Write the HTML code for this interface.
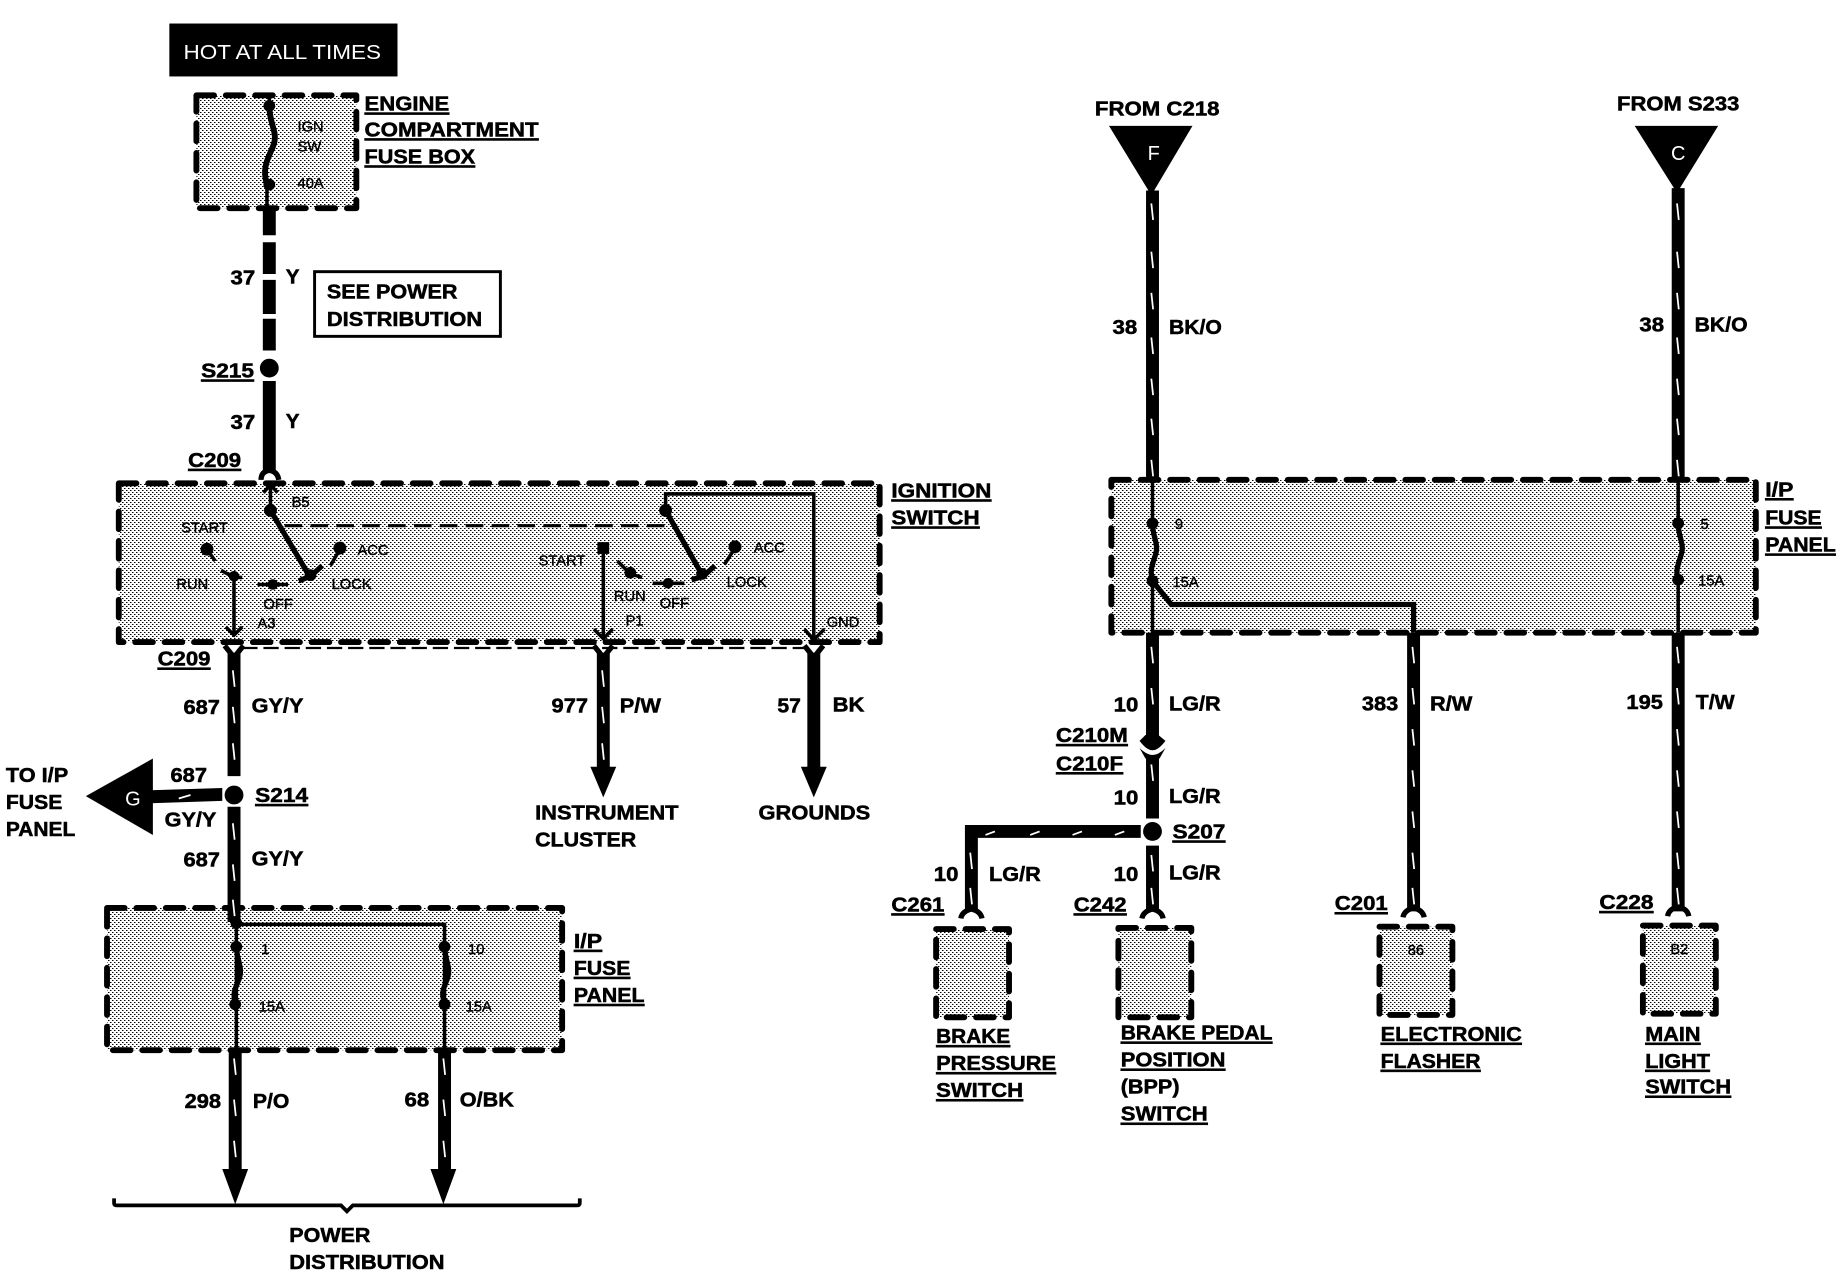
<!DOCTYPE html>
<html><head><meta charset="utf-8"><title>Wiring diagram</title>
<style>
html,body{margin:0;padding:0;background:#fff;width:1844px;height:1280px;overflow:hidden}
svg{display:block}
text{font-family:"Liberation Sans",sans-serif;fill:#000}
.b{font-weight:700;font-size:17.5px;stroke:#000;stroke-width:.45px}
.u{text-decoration:underline}
.s{font-size:12.5px;stroke:#000;stroke-width:.35px}
.w{fill:#fff;font-size:17px}
.box{fill:url(#st);stroke:#000;stroke-width:5;stroke-dasharray:15 10;stroke-linecap:round;stroke-linejoin:round}
.wire{stroke:#000;stroke-width:11;fill:none}
.thin{stroke:#000;stroke-width:3;fill:none}
.mid{stroke:#000;stroke-width:4.5;fill:none}
.tick{stroke:#fff;stroke-width:1.5;fill:none}
</style></head><body>
<svg xmlns="http://www.w3.org/2000/svg" width="1844" height="1280" viewBox="0 0 1568 1088.4">
<defs>
<pattern id="st" patternUnits="userSpaceOnUse" width="4" height="4" patternTransform="scale(.8503)">
<rect width="4" height="4" fill="#fff"/>
<rect x="0" y="0" width="1.5" height="1" fill="#000"/>
<rect x="2" y="2" width="1.5" height="1" fill="#000"/>
</pattern>
</defs>

<!-- hot box -->
<rect x="144" y="20" width="194" height="45" fill="#000"/>
<text x="156" y="50" class="w" textLength="168" lengthAdjust="spacingAndGlyphs">HOT AT ALL TIMES</text>

<!-- shaded boxes -->
<rect class="box" x="167" y="81" width="136" height="96"/>
<rect class="box" x="101" y="411" width="647" height="135"/>
<rect class="box" x="91" y="772" width="387" height="121"/>
<rect class="box" x="945" y="408" width="548" height="130"/>
<rect class="box" x="796" y="790" width="62" height="75"/>
<rect class="box" x="951" y="789" width="62" height="76"/>
<rect class="box" x="1173" y="788" width="62" height="75"/>
<rect class="box" x="1397" y="787" width="62" height="75"/>

<!-- engine fuse -->
<path class="thin" d="M229 80V90C229 105 236 112 233 122C230 132 222 140 227 157V178"/>
<path d="M229 90C229 105 236 112 233 122C230 132 222 140 227 157" fill="none" stroke="#000" stroke-width="5"/>
<circle cx="229" cy="90" r="5"/><circle cx="229" cy="157" r="5"/>
<text x="253" y="112" class="s">IGN</text><text x="253" y="129" class="s">SW</text><text x="253" y="160" class="s">40A</text>
<text x="310" y="94" class="b u" textLength="72" lengthAdjust="spacingAndGlyphs">ENGINE</text>
<text x="310" y="116" class="b u" textLength="148" lengthAdjust="spacingAndGlyphs">COMPARTMENT</text>
<text x="310" y="139" class="b u" textLength="94" lengthAdjust="spacingAndGlyphs">FUSE BOX</text>

<!-- wire 37 -->
<path class="wire" d="M229 177V200M229 206V233M229 238V267M229 271V298M229 324V402"/>
<circle cx="229" cy="313" r="8"/>
<path d="M222 408Q222 401 229 400Q236 401 237 408" class="mid"/>
<text x="196" y="242" class="b" textLength="21" lengthAdjust="spacingAndGlyphs">37</text>
<text x="243" y="241" class="b">Y</text>
<rect x="267.500" y="231" width="158" height="55" fill="#fff" stroke="#000" stroke-width="2.500"/>
<text x="278" y="254" class="b" textLength="111" lengthAdjust="spacingAndGlyphs">SEE POWER</text>
<text x="278" y="277" class="b" textLength="132" lengthAdjust="spacingAndGlyphs">DISTRIBUTION</text>
<text x="171" y="321" class="b u" textLength="45" lengthAdjust="spacingAndGlyphs">S215</text>
<text x="196" y="365" class="b" textLength="21" lengthAdjust="spacingAndGlyphs">37</text>
<text x="243" y="364" class="b">Y</text>
<text x="160" y="397" class="b u" textLength="45" lengthAdjust="spacingAndGlyphs">C209</text>

<!-- ignition switch -->
<text x="758" y="423" class="b u" textLength="85" lengthAdjust="spacingAndGlyphs">IGNITION</text>
<text x="758" y="446" class="b u" textLength="75" lengthAdjust="spacingAndGlyphs">SWITCH</text>
<path class="thin" d="M230 412V434M224 419L230 412L236 419"/>
<circle cx="230" cy="434" r="5.500"/>
<path class="mid" d="M230 434L262 488"/>
<path class="mid" d="M254 494L264 490L274 481"/><circle cx="264" cy="489" r="5"/>
<path d="M242 447H572" stroke="#000" stroke-width="2.600" stroke-dasharray="15 7" fill="none"/>
<text x="248" y="431" class="s">B5</text>
<text x="154" y="453" class="s">START</text>
<circle cx="176" cy="467" r="5.500"/><path class="thin" d="M176 467L183 477"/>
<text x="150" y="501" class="s">RUN</text>
<path class="thin" d="M188 485L199 491H206"/><circle cx="199" cy="490" r="4.500"/>
<path class="thin" d="M199 490V540M192 533L199 540L206 533"/>
<path class="thin" d="M219 497H245"/><circle cx="232" cy="497" r="4.500"/>
<text x="224" y="518" class="s">OFF</text><text x="219" y="534" class="s">A3</text>
<circle cx="289" cy="466" r="5.500"/><path class="thin" d="M289 467L281 481"/>
<text x="304" y="472" class="s">ACC</text><text x="282" y="501" class="s">LOCK</text>

<circle cx="566" cy="434" r="5.500"/>
<path class="thin" d="M566 434V420H692V544M684 535L692 544L701 535"/>
<path class="mid" d="M566 434L596 487"/>
<path class="mid" d="M588 493L598 490L608 481"/><circle cx="597" cy="488" r="5"/>
<circle cx="625" cy="465" r="5.500"/><path class="thin" d="M625 466L616 480"/>
<text x="641" y="470" class="s">ACC</text><text x="618" y="499" class="s">LOCK</text>
<text x="458" y="481" class="s">START</text>
<rect x="508" y="461" width="10" height="10"/>
<path class="thin" d="M513 466V543M505 535L513 543L521 535"/>
<path class="thin" d="M525 477L536 488L546 491"/><circle cx="536" cy="487" r="5"/>
<text x="522" y="511" class="s">RUN</text>
<path class="thin" d="M555 496H582"/><circle cx="568" cy="496" r="4.500"/>
<text x="561" y="517" class="s">OFF</text><text x="532" y="532" class="s">P1</text>
<text x="703" y="533" class="s">GND</text>

<!-- below ignition -->
<path d="M206 551H688" stroke="#000" stroke-width="2" stroke-dasharray="13 5" fill="none"/>
<path class="mid" d="M191 549L199 559L207 549M505 549L513 559L521 549M684 549L692 559L700 549"/>
<path class="wire" d="M199 555V660M199 686V784M513 555V654M692 555V654"/>
<path d="M502 652H524L513 678ZM681 652H703L692 678Z"/>
<path class="tick" d="M198 570l1.500 14M198 601l1.500 14M198 632l1.500 14M198 700l1.500 14M198 735l1.500 14M198 765l1.500 14M512 570l1.500 14M512 601l1.500 14M512 632l1.500 14"/>
<text x="134" y="566" class="b u" textLength="45" lengthAdjust="spacingAndGlyphs">C209</text>
<text x="156" y="607" class="b" textLength="31" lengthAdjust="spacingAndGlyphs">687</text>
<text x="214" y="606" class="b" textLength="44" lengthAdjust="spacingAndGlyphs">GY/Y</text>
<text x="469" y="606" class="b" textLength="31" lengthAdjust="spacingAndGlyphs">977</text>
<text x="527" y="606" class="b" textLength="35" lengthAdjust="spacingAndGlyphs">P/W</text>
<text x="661" y="606" class="b" textLength="20" lengthAdjust="spacingAndGlyphs">57</text>
<text x="708" y="605" class="b" textLength="27" lengthAdjust="spacingAndGlyphs">BK</text>
<text x="455" y="697" class="b" textLength="122" lengthAdjust="spacingAndGlyphs">INSTRUMENT</text>
<text x="455" y="720" class="b" textLength="86" lengthAdjust="spacingAndGlyphs">CLUSTER</text>
<text x="645" y="697" class="b" textLength="95" lengthAdjust="spacingAndGlyphs">GROUNDS</text>

<!-- S214 -->
<circle cx="199" cy="676" r="8"/>
<path d="M73 677L130 645V710Z"/>
<path d="M128 672L189 670V681L128 683Z"/>
<path class="tick" d="M152 679l10 -3"/>
<text x="113" y="685" class="w" text-anchor="middle">G</text>
<text x="145" y="665" class="b" textLength="31" lengthAdjust="spacingAndGlyphs">687</text>
<text x="140" y="703" class="b" textLength="44" lengthAdjust="spacingAndGlyphs">GY/Y</text>
<text x="217" y="682" class="b u" textLength="45" lengthAdjust="spacingAndGlyphs">S214</text>
<text x="5" y="665" class="b" textLength="53" lengthAdjust="spacingAndGlyphs">TO I/P</text>
<text x="5" y="688" class="b" textLength="48" lengthAdjust="spacingAndGlyphs">FUSE</text>
<text x="5" y="711" class="b" textLength="59" lengthAdjust="spacingAndGlyphs">PANEL</text>
<text x="156" y="737" class="b" textLength="31" lengthAdjust="spacingAndGlyphs">687</text>
<text x="214" y="736" class="b" textLength="44" lengthAdjust="spacingAndGlyphs">GY/Y</text>

<!-- left IP panel -->
<path class="thin" d="M201 784V893M201 786H378V893"/>
<path class="mid" d="M201 804C201 815 206 822 204 830C202 838 197 842 200 853M378 804C378 815 383 822 381 830C379 838 374 842 378 853"/>
<circle cx="201" cy="785" r="5"/><circle cx="201" cy="805" r="5"/><circle cx="378" cy="805" r="5"/>
<circle cx="200" cy="854" r="5"/><circle cx="378" cy="854" r="5"/>
<text x="222" y="811" class="s">1</text><text x="398" y="811" class="s">10</text>
<text x="220" y="860" class="s">15A</text><text x="396" y="860" class="s">15A</text>
<text x="488" y="806" class="b u" textLength="24" lengthAdjust="spacingAndGlyphs">I/P</text>
<text x="488" y="829" class="b u" textLength="48" lengthAdjust="spacingAndGlyphs">FUSE</text>
<text x="488" y="852" class="b u" textLength="60" lengthAdjust="spacingAndGlyphs">PANEL</text>
<path class="wire" d="M200 893V997M378 893V997"/>
<path d="M189 994H211L200 1024ZM366 994H388L377 1024Z"/>
<path class="tick" d="M199 900l1.500 14M199 935l1.500 14M199 970l1.500 14M377 900l1.500 14M377 935l1.500 14M377 970l1.500 14"/>
<text x="157" y="942" class="b" textLength="31" lengthAdjust="spacingAndGlyphs">298</text>
<text x="215" y="942" class="b" textLength="31" lengthAdjust="spacingAndGlyphs">P/O</text>
<text x="344" y="941" class="b" textLength="21" lengthAdjust="spacingAndGlyphs">68</text>
<text x="391" y="941" class="b" textLength="46" lengthAdjust="spacingAndGlyphs">O/BK</text>
<path d="M97 1019V1023Q97 1025 100 1025H290L295 1030L300 1025H490Q493 1025 493 1023V1019" fill="none" stroke="#000" stroke-width="3.200"/>
<text x="246" y="1056" class="b" textLength="69" lengthAdjust="spacingAndGlyphs">POWER</text>
<text x="246" y="1079" class="b" textLength="132" lengthAdjust="spacingAndGlyphs">DISTRIBUTION</text>

<!-- right top -->
<text x="931" y="98" class="b" textLength="106" lengthAdjust="spacingAndGlyphs">FROM C218</text>
<text x="1375" y="94" class="b" textLength="104" lengthAdjust="spacingAndGlyphs">FROM S233</text>
<path d="M943 107H1014L979 166ZM1390 107H1461L1426 164Z"/>
<text x="981" y="136" class="w" text-anchor="middle">F</text>
<text x="1427" y="136" class="w" text-anchor="middle">C</text>
<path class="wire" d="M980 162V410M1427 160V410"/>
<path class="tick" d="M979 173l1.500 14M979 214l1.500 14M979 249l1.500 14M979 287l1.500 14M979 322l1.500 14M979 356l1.500 14M979 391l1.500 14M1426 173l1.500 14M1426 214l1.500 14M1426 249l1.500 14M1426 287l1.500 14M1426 322l1.500 14M1426 356l1.500 14M1426 391l1.500 14"/>
<text x="946" y="284" class="b" textLength="21" lengthAdjust="spacingAndGlyphs">38</text>
<text x="994" y="284" class="b" textLength="45" lengthAdjust="spacingAndGlyphs">BK/O</text>
<text x="1394" y="282" class="b" textLength="21" lengthAdjust="spacingAndGlyphs">38</text>
<text x="1441" y="282" class="b" textLength="45" lengthAdjust="spacingAndGlyphs">BK/O</text>

<!-- right IP panel -->
<path class="thin" d="M980 408V445M980 494V538M1427 408V445M1427 494V538"/>
<path class="mid" d="M980 445C980 456 985 462 983 470C981 478 977 484 980 494M1427 445C1427 456 1432 462 1430 470C1428 478 1424 484 1427 494"/>
<path class="mid" d="M980 494L996 514H1202V538"/>
<circle cx="980" cy="445" r="5"/><circle cx="980" cy="494" r="5"/><circle cx="1427" cy="445" r="5"/><circle cx="1427" cy="493" r="5"/>
<text x="999" y="450" class="s">9</text><text x="1446" y="450" class="s">5</text>
<text x="997" y="499" class="s">15A</text><text x="1444" y="498" class="s">15A</text>
<text x="1501" y="422" class="b u" textLength="24" lengthAdjust="spacingAndGlyphs">I/P</text>
<text x="1501" y="446" class="b u" textLength="48" lengthAdjust="spacingAndGlyphs">FUSE</text>
<text x="1501" y="469" class="b u" textLength="60" lengthAdjust="spacingAndGlyphs">PANEL</text>

<!-- right wires -->
<path class="wire" d="M980 538V626M980 644V696M980 719V775M1202 538V775M1427 538V775M826 775V707H970"/>
<path d="M974 625H985L991 630Q985 638 980 638Q975 638 969 630ZM969 636Q975 642 980 642Q985 642 991 636L986 645H974Z"/>
<circle cx="980" cy="707" r="8"/>
<path class="mid" d="M817 781Q818 775 826 773Q834 775 835 781M971 781Q972 775 980 773Q988 775 989 781M1193 780Q1194 774 1202 772Q1210 774 1211 780M1418 779Q1419 773 1427 771Q1435 773 1436 779"/>
<path class="tick" d="M979 550l1.500 14M979 585l1.500 14M979 650l1.500 14M979 727l1.500 14M979 755l1.500 14M1201 550l1.500 14M1201 585l1.500 14M1201 620l1.500 14M1201 655l1.500 14M1201 690l1.500 14M1201 725l1.500 14M1201 755l1.500 14M1426 550l1.500 14M1426 585l1.500 14M1426 620l1.500 14M1426 655l1.500 14M1426 690l1.500 14M1426 725l1.500 14M1426 755l1.500 14M825 725l1.500 14M825 755l1.500 14M838 710l8 -3M876 710l8 -3M912 710l8 -3M948 710l8 -3"/>
<text x="947" y="605" class="b" textLength="21" lengthAdjust="spacingAndGlyphs">10</text>
<text x="994" y="604" class="b" textLength="44" lengthAdjust="spacingAndGlyphs">LG/R</text>
<text x="898" y="631" class="b u" textLength="61" lengthAdjust="spacingAndGlyphs">C210M</text>
<text x="898" y="655" class="b u" textLength="57" lengthAdjust="spacingAndGlyphs">C210F</text>
<text x="947" y="684" class="b" textLength="21" lengthAdjust="spacingAndGlyphs">10</text>
<text x="994" y="683" class="b" textLength="44" lengthAdjust="spacingAndGlyphs">LG/R</text>
<text x="997" y="713" class="b u" textLength="45" lengthAdjust="spacingAndGlyphs">S207</text>
<text x="794" y="749" class="b" textLength="21" lengthAdjust="spacingAndGlyphs">10</text>
<text x="841" y="749" class="b" textLength="44" lengthAdjust="spacingAndGlyphs">LG/R</text>
<text x="947" y="749" class="b" textLength="21" lengthAdjust="spacingAndGlyphs">10</text>
<text x="994" y="748" class="b" textLength="44" lengthAdjust="spacingAndGlyphs">LG/R</text>
<text x="1158" y="604" class="b" textLength="31" lengthAdjust="spacingAndGlyphs">383</text>
<text x="1216" y="604" class="b" textLength="36" lengthAdjust="spacingAndGlyphs">R/W</text>
<text x="1383" y="603" class="b" textLength="31" lengthAdjust="spacingAndGlyphs">195</text>
<text x="1442" y="603" class="b" textLength="33" lengthAdjust="spacingAndGlyphs">T/W</text>
<text x="758" y="775" class="b u" textLength="45" lengthAdjust="spacingAndGlyphs">C261</text>
<text x="913" y="775" class="b u" textLength="45" lengthAdjust="spacingAndGlyphs">C242</text>
<text x="1135" y="774" class="b u" textLength="45" lengthAdjust="spacingAndGlyphs">C201</text>
<text x="1360" y="773" class="b u" textLength="46" lengthAdjust="spacingAndGlyphs">C228</text>
<text x="1204" y="812" class="s" text-anchor="middle">86</text>
<text x="1428" y="811" class="s" text-anchor="middle">B2</text>
<text x="796" y="887" class="b u" textLength="63" lengthAdjust="spacingAndGlyphs">BRAKE</text>
<text x="796" y="910" class="b u" textLength="102" lengthAdjust="spacingAndGlyphs">PRESSURE</text>
<text x="796" y="933" class="b u" textLength="74" lengthAdjust="spacingAndGlyphs">SWITCH</text>
<text x="953" y="884" class="b u" textLength="129" lengthAdjust="spacingAndGlyphs">BRAKE PEDAL</text>
<text x="953" y="907" class="b u" textLength="89" lengthAdjust="spacingAndGlyphs">POSITION</text>
<text x="953" y="930" class="b" textLength="50" lengthAdjust="spacingAndGlyphs">(BPP)</text>
<text x="953" y="953" class="b u" textLength="74" lengthAdjust="spacingAndGlyphs">SWITCH</text>
<text x="1174" y="885" class="b u" textLength="120" lengthAdjust="spacingAndGlyphs">ELECTRONIC</text>
<text x="1174" y="908" class="b u" textLength="85" lengthAdjust="spacingAndGlyphs">FLASHER</text>
<text x="1399" y="885" class="b u" textLength="47" lengthAdjust="spacingAndGlyphs">MAIN</text>
<text x="1399" y="908" class="b u" textLength="55" lengthAdjust="spacingAndGlyphs">LIGHT</text>
<text x="1399" y="930" class="b u" textLength="73" lengthAdjust="spacingAndGlyphs">SWITCH</text>
</svg>
</body></html>
